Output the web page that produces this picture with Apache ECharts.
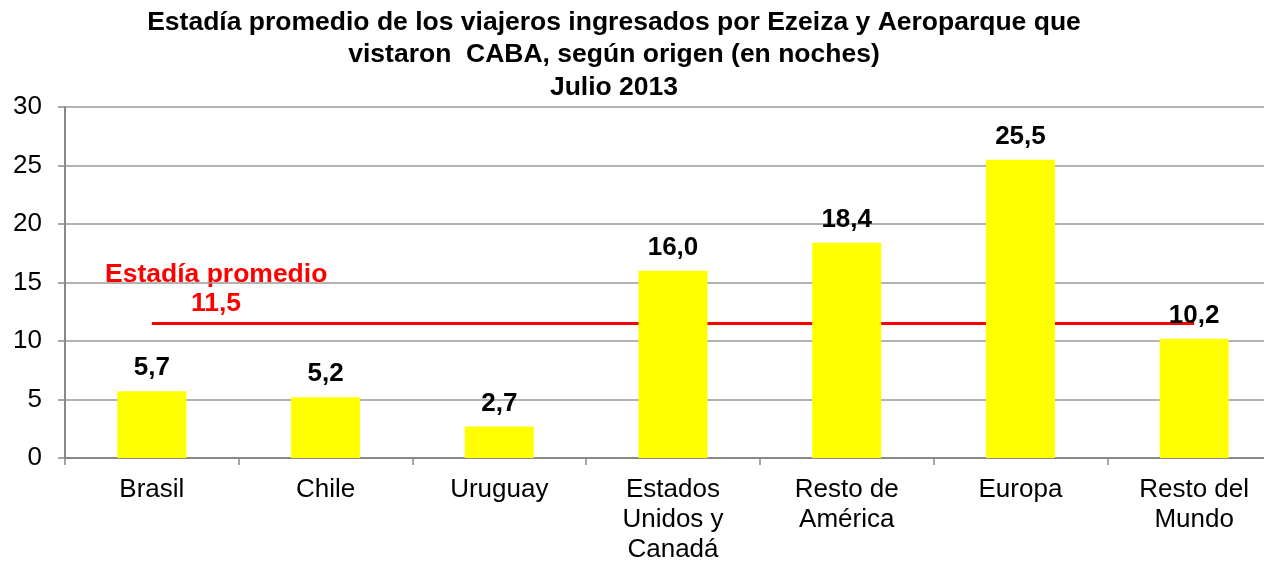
<!DOCTYPE html>
<html>
<head>
<meta charset="utf-8">
<script src="https://cdn.jsdelivr.net/npm/echarts@6/dist/echarts.min.js"></script>
<style>
  html, body { margin: 0; padding: 0; background: #fff; }
  #chart { width: 1264px; height: 564px; }
</style>
</head>
<body>
<div id="chart"></div>
<script>
// datos
var categorias = ['Brasil', 'Chile', 'Uruguay', 'Estados\nUnidos y\nCanadá', 'Resto de\nAmérica', 'Europa', 'Resto del\nMundo'];
var estadia = [5.7, 5.2, 2.7, 16.0, 18.4, 25.5, 10.2];
var promedio = 11.5;
var ticksY = [0, 5, 10, 15, 20, 25, 30];

var fuente = '"Liberation Sans", Arial, sans-serif';

function coma(v) {
  return v.toFixed(1).replace('.', ',');
}

(function () {
  var myChart = echarts.init(document.getElementById('chart'));
  var option = {
    backgroundColor: '#fff',
    animation: false,
    textStyle: { fontFamily: fuente },
    // titulo y rotulo del promedio
    graphic: [
      {
        type: 'text',
        style: {
          x: 614, y: 6,
          text: 'Estadía promedio de los viajeros ingresados por Ezeiza y Aeroparque que\nvistaron  CABA, según origen (en noches)\nJulio 2013',
          align: 'center',
          font: 'bold 26.5px ' + fuente,
          lineHeight: 32.5,
          fill: '#000'
        }
      },
      {
        type: 'text',
        style: {
          x: 105, y: 261,
          text: 'Estadía promedio',
          font: 'bold 26.5px ' + fuente,
          fill: '#ff0000'
        }
      },
      {
        type: 'text',
        style: {
          x: 216, y: 290,
          text: coma(promedio),
          align: 'center',
          font: 'bold 26.5px ' + fuente,
          fill: '#ff0000'
        }
      }
    ],
    grid: {
      left: 65,
      top: 107,
      width: 1216,
      height: 351,
      outerBoundsMode: 'none'
    },
    xAxis: {
      type: 'category',
      data: categorias,
      axisLine: { lineStyle: { color: '#888', width: 2 } },
      axisTick: { show: true, length: 7, lineStyle: { color: '#888', width: 1.5 } },
      axisLabel: {
        color: '#000',
        fontSize: 26,
        lineHeight: 30,
        margin: 17,
        interval: 0
      }
    },
    yAxis: {
      type: 'value',
      min: ticksY[0],
      max: ticksY[ticksY.length - 1],
      interval: 5,
      axisLine: { show: true, lineStyle: { color: '#888', width: 2 } },
      axisTick: { show: true, length: 7, lineStyle: { color: '#888', width: 1.5 } },
      axisLabel: { color: '#000', fontSize: 26, margin: 23 },
      splitLine: { lineStyle: { color: '#999', width: 1.5 } }
    },
    series: [
      {
        type: 'bar',
        data: estadia,
        barWidth: 69,
        itemStyle: { color: '#ffff00' },
        label: {
          show: true,
          position: 'top',
          distance: 10,
          color: '#000',
          fontSize: 26,
          fontWeight: 'bold',
          formatter: function (p) { return coma(p.value); }
        },
        z: 3,
        markLine: {
          silent: true,
          symbol: 'none',
          label: { show: false },
          lineStyle: { color: '#ff0000', width: 3, type: 'solid' },
          z: 2,
          data: [[
            { coord: [categorias[0], promedio] },
            { coord: [categorias[categorias.length - 1], promedio] }
          ]]
        }
      }
    ]
  };
  myChart.setOption(option);
})();
</script>
</body>
</html>
